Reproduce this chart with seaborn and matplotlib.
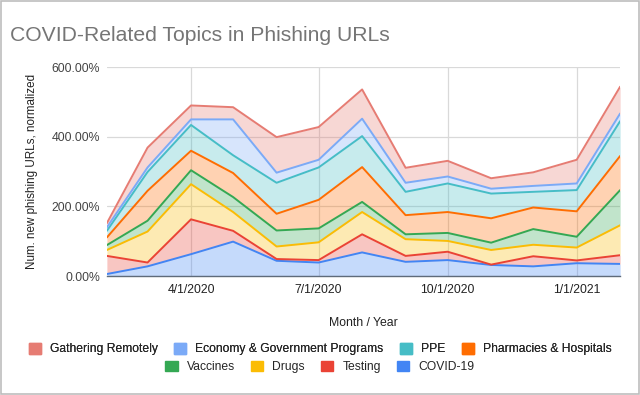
import pandas as pd
import numpy as np
import seaborn as sns
import matplotlib.pyplot as plt
from matplotlib.patches import Patch, Rectangle

# monthly points, Feb 2020 .. Feb 2021
months = pd.date_range("2020-02-01", "2021-02-01", freq="MS")

# individual (non-stacked) values, % normalized, bottom of stack first
covid = [6, 28, 63, 99, 44, 39, 68, 41, 46, 32, 28, 37, 35]
testing = [52, 11, 100, 31, 5, 7, 52, 17, 24, 1, 29, 8, 25]
drugs = [17, 89, 101, 54, 36, 51, 64, 48, 31, 42, 33, 37, 86]
vaccines = [14, 31, 40, 43, 46, 40, 29, 14, 23, 21, 45, 31, 101]
pharmacies = [22, 86, 56, 69, 48, 82, 100, 55, 60, 70, 62, 73, 98]
ppe = [19, 54, 74, 51, 89, 93, 89, 67, 82, 71, 45, 61, 100]
economy = [10, 13, 16, 103, 29, 22, 50, 26, 20, 14, 17, 19, 22]
gathering = [12, 57, 40, 35, 102, 94, 84, 43, 45, 30, 39, 68, 77]

series = ["COVID-19", "Testing", "Drugs", "Vaccines", "Pharmacies & Hospitals",
          "PPE", "Economy & Government Programs", "Gathering Remotely"]
values = [covid, testing, drugs, vaccines, pharmacies, ppe, economy, gathering]
colors = ["#4285F4", "#EA4335", "#FBBC04", "#34A853", "#FF6D01",
          "#46BDC6", "#7BAAF7", "#E67C73"]

xtick_dates = pd.to_datetime(["2020-04-01", "2020-07-01", "2020-10-01", "2021-01-01"])
xtick_labels = ["4/1/2020", "7/1/2020", "10/1/2020", "1/1/2021"]
yticks = [0, 200, 400, 600]

df = pd.DataFrame(dict(zip(series, values)), index=months)
cum = df.cumsum(axis=1)

sns.set_theme(style="white")
plt.rcParams["font.family"] = ["Liberation Sans", "DejaVu Sans"]

fig = plt.figure(figsize=(6.4, 3.95), dpi=100)
ax = fig.add_axes([0.167, 0.301, 0.802, 0.529])

ax.stackplot(df.index, *[df[s] for s in series], colors=colors, alpha=0.3, linewidth=0)
long = cum.reset_index(names="month").melt(id_vars="month", var_name="topic", value_name="value")
sns.lineplot(data=long, x="month", y="value", hue="topic", hue_order=series,
             palette=colors, linewidth=1.4, legend=False, ax=ax)

ax.set_xlim(months[0], months[-1])
ax.set_ylim(0, 600)
ax.set_yticks(yticks)
ax.set_yticklabels([f"{v:.2f}%" for v in yticks], fontsize=8.8, color="#444444")
ax.set_xticks(xtick_dates)
ax.set_xticklabels(xtick_labels, fontsize=8.8, color="#222222")
ax.tick_params(axis="y", length=0, pad=5)
ax.tick_params(axis="x", length=0, pad=6)
ax.grid(True, color="#d9d9d9", linewidth=0.9)
ax.set_axisbelow(True)
for side in ["top", "right", "left"]:
    ax.spines[side].set_visible(False)
ax.spines["bottom"].set_color("#5f6b7a")
ax.spines["bottom"].set_linewidth(1)

ax.set_xlabel("Month / Year", fontsize=8.8, color="#222222", labelpad=15)
ax.set_ylabel("Num. new phishing URLs, normalized", fontsize=8.4, color="#222222", labelpad=10)

fig.text(0.016, 0.91, "COVID-Related Topics in Phishing URLs", fontsize=15.2,
         color="#757575", va="center", ha="left")

# legend in two centered rows, top row = top of stack
order = series[::-1]
ocolors = colors[::-1]
row1 = [Patch(facecolor=c, edgecolor=c) for c in ocolors[:4]]
row2 = [Patch(facecolor=c, edgecolor=c) for c in ocolors[4:]]
legkw = dict(ncol=4, loc="center", frameon=False, fontsize=8.7, handlelength=1.0,
             handleheight=1.0, columnspacing=1.35, handletextpad=0.75)
leg1 = fig.legend(row1, order[:4], bbox_to_anchor=(0.5, 0.116), **legkw)
fig.add_artist(leg1)
fig.legend(row2, order[4:], bbox_to_anchor=(0.5, 0.071), **legkw)

fig.add_artist(Rectangle((0.001, 0.002), 0.997, 0.995, transform=fig.transFigure,
                         fill=False, edgecolor="#bdbdbd", linewidth=1.2))

fig.savefig("out.png", dpi=100)
